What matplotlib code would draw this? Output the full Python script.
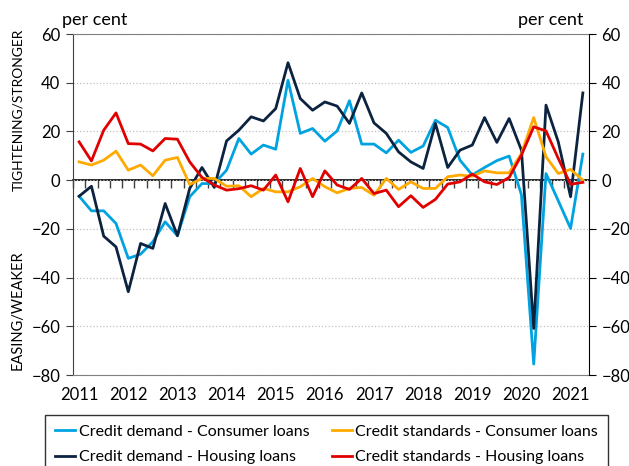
import numpy as np
from matplotlib import pyplot as plt

plt.rcParams["font.family"] = ["Lato", "DejaVu Sans"]

# quarterly, 2011Q1 - 2021Q2
quarters = [f"{y}Q{q}" for y in range(2011, 2022) for q in range(1, 5)][:42]
year_labels = [str(y) for y in range(2011, 2022)]

demand_consumer = [-6.6, -12.6, -12.6, -17.8, -32.1, -30.4, -25.3, -17.1, -22.8, -6.8,
                   -1.4, -1.4, 4.1, 17.1, 10.7, 14.4, 12.7, 41.0, 19.2, 21.2,
                   16.0, 20.2, 32.6, 14.8, 14.8, 11.2, 16.4, 11.4, 14.0, 24.6,
                   21.6, 8.2, 2.1, 5.2, 8.0, 9.9, -6.0, -75.5, 2.7, -8.5,
                   -19.8, 10.7]
demand_housing = [-6.6, -2.5, -23.0, -27.4, -45.8, -26.0, -28.0, -9.6, -22.8, -3.4,
                  5.2, -3.0, 16.1, 20.5, 26.0, 24.3, 29.4, 48.2, 33.5, 28.7,
                  32.1, 30.4, 23.3, 35.8, 23.5, 19.2, 11.6, 7.5, 4.8, 23.3,
                  5.2, 12.3, 14.4, 25.7, 15.5, 25.3, 12.3, -60.9, 30.8, 15.7,
                  -6.8, 35.8]
standards_consumer = [7.5, 6.2, 8.2, 11.9, 4.1, 6.2, 1.8, 8.2, 9.3, -1.8,
                      0.7, 0.7, -2.5, -2.3, -6.8, -3.4, -4.8, -4.8, -2.7, 0.7,
                      -2.7, -5.2, -3.4, -3.0, -6.2, 0.7, -3.8, -0.7, -3.4, -3.4,
                      1.4, 2.1, 1.6, 3.8, 3.0, 3.0, 10.9, 25.7, 9.6, 2.7,
                      4.4, 0.0]
standards_housing = [15.7, 7.9, 20.5, 27.6, 15.0, 14.8, 12.0, 17.1, 16.8, 7.5,
                     1.1, -2.0, -4.1, -3.5, -2.3, -4.1, 2.1, -8.9, 4.8, -6.8,
                     3.8, -2.0, -3.8, 0.7, -5.5, -4.1, -10.9, -6.4, -11.2, -7.9,
                     -1.6, -0.7, 2.5, -0.7, -1.8, 1.1, 10.3, 21.9, 20.2, 8.9,
                     -1.7, -0.9]

series = [
    ("Credit demand - Consumer loans", demand_consumer, "#00A3E0"),
    ("Credit demand - Housing loans", demand_housing, "#0C2340"),
    ("Credit standards - Consumer loans", standards_consumer, "#FFAA00"),
    ("Credit standards - Housing loans", standards_housing, "#E00000"),
]

fig = plt.figure(figsize=(6.29, 4.66), dpi=100)
ax = fig.add_axes([73 / 629, 1 - 375 / 466, 516 / 629, 341 / 466])

x = np.arange(len(quarters))
for label, vals, color in series:
    ax.plot(x, vals, color=color, lw=2, label=label)

ax.set_xlim(-0.5, len(quarters) - 0.5)
ax.set_ylim(-80, 60)
ax.set_yticks(range(-80, 61, 20))
ax.yaxis.grid(True, linestyle=":", color="#c0c0c0", lw=0.9)
ax.set_axisbelow(True)

# year labels under the plot, no tick marks
ax.set_xticks(x[::4], year_labels)
ax.tick_params(axis="x", length=0, pad=9, labelsize=12)
ax.tick_params(axis="y", direction="out", length=5, pad=4, labelsize=12, color="#404040")

for side in ["top", "bottom"]:
    ax.spines[side].set_color("#808080")
ax.spines["left"].set_color("#404040")
ax.spines["right"].set_visible(False)

# zero line with quarter tick marks
zero = ax.secondary_xaxis(80 / 140)
zero.set_alignment("bottom")
zero.set_xticks(np.arange(-0.5, len(quarters)), labels=[])
zero.tick_params(direction="out", length=6, color="#404040", width=1)
zero.spines["bottom"].set_color("black")
zero.spines["bottom"].set_linewidth(1.2)

ax2 = ax.twinx()
ax2.set_ylim(-80, 60)
ax2.set_yticks(range(-80, 61, 20))
ax2.tick_params(axis="y", direction="out", length=5, pad=4, labelsize=12)
for side in ["top", "bottom", "left"]:
    ax2.spines[side].set_visible(False)
ax2.spines["right"].set_color("black")

fig.text(62 / 629, 1 - 20 / 466, "per cent", fontsize=13, va="center", ha="left")
fig.text(583 / 629, 1 - 20 / 466, "per cent", fontsize=13, va="center", ha="right")
fig.text(18 / 629, 1 - 110 / 466, "TIGHTENING/STRONGER", fontsize=10,
         rotation=90, va="center", ha="center")
fig.text(18 / 629, 1 - 310 / 466, "EASING/WEAKER", fontsize=10.5,
         rotation=90, va="center", ha="center")

leg = fig.legend(loc="upper left", bbox_to_anchor=(45 / 629, 1 - 415 / 466), ncol=2,
                 fontsize=11.5, frameon=True, fancybox=False, edgecolor="black",
                 handlelength=1.3, handletextpad=0.2, columnspacing=1.4,
                 borderpad=0.6, labelspacing=0.72, borderaxespad=0)
leg.get_frame().set_linewidth(1)

fig.savefig("out.png", dpi=100)
